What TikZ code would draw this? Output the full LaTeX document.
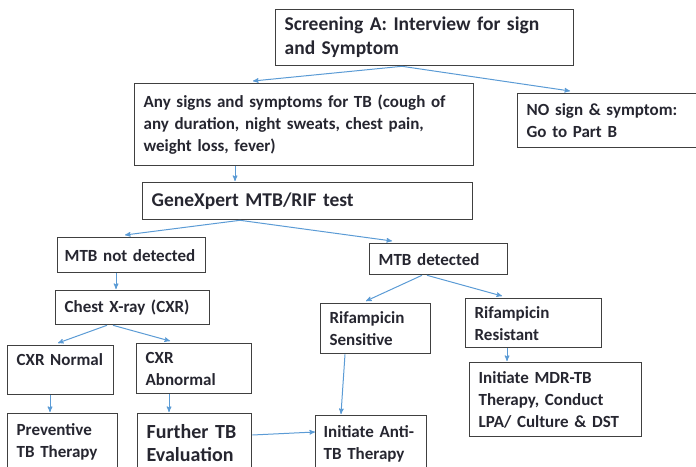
\documentclass[tikz,border=0pt]{standalone}
\usepackage{fontspec}
\setmainfont{Carlito}
\usepackage{tikz}
\usetikzlibrary{arrows,calc,positioning}
\definecolor{boxgray}{RGB}{64,64,64}
\definecolor{txtgray}{RGB}{38,38,48}
\definecolor{flowblue}{RGB}{91,155,213}
\tikzset
{
    stepbox/.style = {draw=boxgray, line width=1.3pt, anchor=north west, align=left, inner xsep=9pt, inner ysep=2pt, text=txtgray, font=\bfseries\fontsize{17}{22}\selectfont},
    headbox/.style = {stepbox, font=\bfseries\fontsize{19.5}{24}\selectfont},
    flow/.style    = {draw=flowblue, line width=1pt, ->, >=stealth'}
}

\begin{document}
\begin{tikzpicture}[x=1pt, y=-1pt]
    \clip (0,0) rectangle (696,466);
    % screening and first split
    \node [headbox, text width=280pt, minimum height=56pt] (scr) at (275,9) {Screening A: Interview for sign\\and Symptom};
    \node [stepbox, text width=321pt, minimum height=82pt] (any) at (134,83) {Any signs and symptoms for TB (cough of\\any duration, night sweats, chest pain,\\weight loss, fever)};
    \node [stepbox, text width=175pt, minimum height=54pt] (nosign) at (517,93) {NO sign \& symptom:\\Go to Part B};
    \node [headbox, text width=312pt, minimum height=37pt] (gene) at (142,182) {GeneXpert MTB/RIF test};
    % MTB not detected branch
    \node [stepbox, inner xsep=7pt, text width=134pt, minimum height=35pt] (notdet) at (57,237) {MTB not detected};
    \node [stepbox, text width=136pt, minimum height=34pt] (chest) at (55,290) {Chest X-ray (CXR)};
    \node [stepbox, text width=88pt, minimum height=49pt, text depth=22pt] (cxrn) at (7,345) {CXR Normal};
    \node [stepbox, text width=97pt, minimum height=50pt] (cxra) at (136,343) {CXR\\Abnormal};
    \node [stepbox, text width=92pt, minimum height=56pt] (prev) at (7,413) {Preventive\\TB Therapy};
    \node [headbox, font=\bfseries\fontsize{20}{23}\selectfont, text width=96pt, minimum height=58pt] (further) at (137,413) {Further TB\\Evaluation};
    % MTB detected branch
    \node [stepbox, text width=120pt, minimum height=31pt] (det) at (369,243) {MTB detected};
    \node [stepbox, text width=92pt, minimum height=50pt] (rifs) at (320,303) {Rifampicin\\Sensitive};
    \node [stepbox, text width=118pt, minimum height=49pt] (rifr) at (465,298) {Rifampicin\\Resistant};
    \node [stepbox, inner xsep=8pt, text width=95pt, minimum height=56pt] (anti) at (315,415) {Initiate Anti-\\TB Therapy};
    \node [stepbox, text width=154pt, minimum height=74pt] (mdr) at (469,362) {Initiate MDR-TB\\Therapy, Conduct\\LPA/ Culture \& DST};

    % connectors
    \draw [flow] ($(scr.south west)+(127,0)$) -- ($(any.north west)+(119,-2)$);
    \draw [flow] ($(scr.south west)+(127,0)$) -- ($(nosign.north west)+(53,-2)$);
    \draw [flow] ($(any.south west)+(101,0)$) -- ($(gene.north west)+(93,-1)$);
    \draw [flow] ($(gene.south west)+(98,0)$) -- ($(notdet.north west)+(68,-2)$);
    \draw [flow] ($(gene.south west)+(98,0)$) -- ($(det.north west)+(23,-2)$);
    \draw [flow] ($(notdet.south west)+(59,0)$) -- ($(chest.north west)+(61,-1)$);
    \draw [flow] ($(chest.south west)+(52,0)$) -- ($(cxrn.north west)+(51,-2)$);
    \draw [flow] ($(chest.south west)+(58,0)$) -- ($(cxra.north west)+(34,-2)$);
    \draw [flow] ($(cxrn.south west)+(43,0)$) -- ($(prev.north west)+(43,-1)$);
    \draw [flow] ($(cxra.south west)+(33,0)$) -- ($(further.north west)+(32,-1)$);
    \draw [flow] ($(further.north east)+(0,22)$) -- ($(anti.north west)+(0,17)$);
    \draw [flow] ($(det.south west)+(53,0)$) -- ($(rifs.north west)+(46,-2)$);
    \draw [flow] ($(det.south west)+(58,0)$) -- ($(rifr.north west)+(37,-2)$);
    \draw [flow] ($(rifs.south west)+(25,0)$) -- ($(anti.north west)+(26,-1)$);
    \draw [flow] ($(rifr.south west)+(42,0)$) -- ($(mdr.north west)+(38,-1)$);
\end{tikzpicture}
\end{document}
